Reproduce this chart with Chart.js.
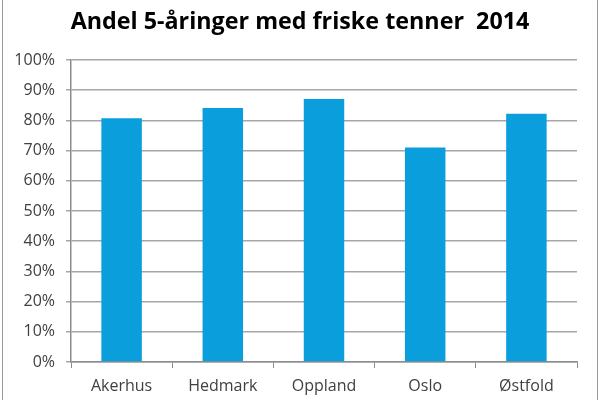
<!DOCTYPE html>
<html>
<head>
<meta charset="utf-8">
<script src="https://cdn.jsdelivr.net/npm/chart.js@4"></script>
<style>
    html, body { margin: 0; padding: 0; background: #fff; overflow: hidden; }
    #wrap { position: relative; width: 600px; height: 400px; }
    #teeth_chart { display: block; }
    #frame { position: absolute; left: 2px; right: 2px; top: -3px; bottom: -3px; border: 1px solid #9a9a9a; pointer-events: none; }
</style>
</head>
<body>
<div id="wrap">
    <canvas id="teeth_chart" width="600" height="400"></canvas>
    <div id="frame"></div>
</div>
<script>
    // Andel 5-åringer med friske tenner, 2014 (prosent)
    const chart_title = "Andel 5-åringer med friske tenner  2014"
    const county_labels = ["Akerhus", "Hedmark", "Oppland", "Oslo", "Østfold"]
    const healthy_teeth_pct = [80.7, 84.1, 87.1, 71.0, 82.2]
    const y_ticks = [0, 10, 20, 30, 40, 50, 60, 70, 80, 90, 100]

    Chart.defaults.font.family = "'Open Sans', sans-serif"
    Chart.defaults.color = "#404040"

    const ctx_teeth = document.getElementById("teeth_chart").getContext("2d")
    const teeth_chart = new Chart(ctx_teeth, {
        type: "bar",
        data: {
            labels: county_labels,
            datasets: [{
                label: "Friske tenner",
                data: healthy_teeth_pct,
                backgroundColor: "#0A9FDC",
                borderWidth: 0,
                barPercentage: 0.4,
                categoryPercentage: 1
            }]
        },
        options: {
            responsive: false,
            animation: false,
            layout: {
                padding: 0
            },
            plugins: {
                legend: { display: false },
                tooltip: { enabled: false },
                title: {
                    display: true,
                    text: chart_title,
                    color: "#000",
                    font: { size: 23.3, weight: "bold" },
                    padding: { top: 8, bottom: 24 }
                }
            },
            scales: {
                x: {
                    afterFit: (axis) => { axis.height = 38 },
                    grid: {
                        drawOnChartArea: false,
                        drawTicks: true,
                        tickLength: 6,
                        color: "#8c8c8c"
                    },
                    border: { color: "#8c8c8c", width: 1.5 },
                    ticks: { font: { size: 16 }, padding: 9 }
                },
                y: {
                    min: 0,
                    max: 100,
                    afterFit: (axis) => { axis.width = 71 },
                    afterBuildTicks: (axis) => {
                        axis.ticks = y_ticks.map(v => ({ value: v }))
                    },
                    grid: {
                        color: "#a6a6a6",
                        lineWidth: 1.5,
                        tickLength: 5
                    },
                    border: { color: "#8c8c8c", width: 1.5 },
                    ticks: {
                        font: { size: 16 },
                        padding: 11,
                        callback: (value) => value + "%"
                    }
                },
                // empty right-hand margin, keeps the title centred on the page
                y_margin: {
                    type: "linear",
                    position: "right",
                    afterFit: (axis) => { axis.width = 23 },
                    grid: { display: false },
                    border: { display: false },
                    ticks: { display: false }
                }
            }
        }
    })
</script>
</body>
</html>
